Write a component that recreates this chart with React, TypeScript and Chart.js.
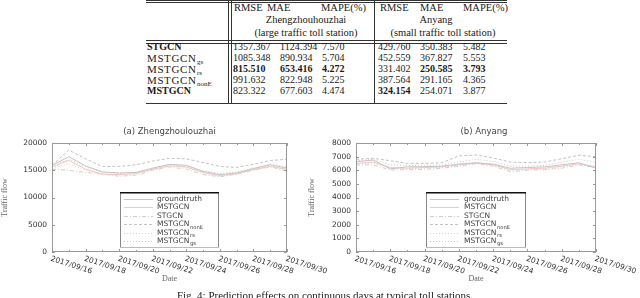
import React, { useEffect, useRef } from 'react';
import { Chart, registerables } from 'chart.js';
Chart.register(...registerables);

// ---------- data ----------
const dates = [
  '2017/09/16', '2017/09/17', '2017/09/18', '2017/09/19', '2017/09/20',
  '2017/09/21', '2017/09/22', '2017/09/23', '2017/09/24', '2017/09/25',
  '2017/09/26', '2017/09/27', '2017/09/28', '2017/09/29', '2017/09/30',
];
const seriesNames = ['groundtruth', 'MSTGCN', 'STGCN', 'MSTGCN_nonE', 'MSTGCN_rs', 'MSTGCN_gs'];

// (a) Zhengzhouhouzhai
const zzGroundtruth = [15900, 17500, 15800, 14700, 14500, 14600, 15400, 16100, 15900, 14800, 14200, 14500, 15300, 16000, 15400];
const zzMSTGCN = [15600, 16800, 15200, 14300, 14200, 14400, 15200, 15800, 15600, 14600, 14000, 14400, 15100, 15700, 15200];
const zzSTGCN = [15200, 15000, 14600, 14300, 13900, 14100, 15000, 15600, 15200, 14200, 13800, 14300, 15000, 15600, 14900];
const zzNonE = [15900, 18700, 17100, 15700, 15700, 16000, 16700, 17200, 17100, 16400, 15700, 15500, 16100, 16800, 17000];
const zzRs = [15400, 16200, 15000, 14200, 14100, 14300, 15100, 15900, 15500, 14500, 13900, 14300, 15200, 15800, 15000];
const zzGs = [15700, 17000, 15600, 14600, 14400, 14600, 15300, 16000, 15800, 14900, 14400, 14700, 15400, 16100, 15600];
const zzYMax = 20000;
const zzYStep = 5000;

// (b) Anyang
const ayGroundtruth = [6630, 6750, 6100, 6250, 6260, 6300, 6450, 6550, 6450, 6150, 6200, 6250, 6400, 6550, 6150];
const ayMSTGCN = [6500, 6600, 6200, 6150, 6200, 6250, 6400, 6520, 6400, 6050, 6100, 6150, 6300, 6480, 6250];
const aySTGCN = [6390, 6400, 6020, 6050, 6070, 6150, 6300, 6480, 6300, 5900, 6000, 6050, 6150, 6390, 6200];
const ayNonE = [6800, 6880, 6700, 6510, 6500, 6550, 7050, 7120, 6900, 6600, 6560, 6600, 6850, 7100, 7000];
const ayRs = [6450, 6550, 6150, 6100, 6150, 6200, 6350, 6600, 6350, 6000, 6050, 6100, 6250, 6450, 6300];
const ayGs = [6700, 6800, 6400, 6350, 6350, 6400, 6600, 6800, 6650, 6300, 6300, 6350, 6600, 6800, 6600];
const ayYMax = 8000;
const ayYStep = 1000;

// table
const tableModels = ['STGCN', 'MSTGCN_gs', 'MSTGCN_rs', 'MSTGCN_nonE', 'MSTGCN'];
const zzRMSE = ['1357.367', '1085.348', '815.510', '991.632', '823.322'];
const zzMAE = ['1124.394', '890.934', '653.416', '822.948', '677.603'];
const zzMAPE = ['7.570', '5.704', '4.272', '5.225', '4.474'];
const ayRMSE = ['429.760', '452.559', '331.402', '387.564', '324.154'];
const ayMAE = ['350.383', '367.827', '250.585', '291.165', '254.071'];
const ayMAPE = ['5.482', '5.553', '3.793', '4.365', '3.877'];
const zzRMSEBest = [false, false, true, false, false];
const zzMAEBest = [false, false, true, false, false];
const zzMAPEBest = [false, false, true, false, false];
const ayRMSEBest = [false, false, false, false, true];
const ayMAEBest = [false, false, true, false, false];
const ayMAPEBest = [false, false, true, false, false];
const boldModels = [true, false, false, false, true];

// ---------- styles ----------
const lineStyles = [
  { color: '#c4c4c4', dash: [] as number[] },
  { color: '#f3c6c6', dash: [] as number[] },
  { color: '#cfcfcf', dash: [4, 2, 1, 2] },
  { color: '#c2c2c2', dash: [3, 2] },
  { color: '#f2c8b8', dash: [1, 2] },
  { color: '#c8c8c8', dash: [1, 2] },
];

function drawName(ctx: CanvasRenderingContext2D, name: string, x: number, y: number, size: number) {
  const [base, sub] = name.split('_');
  ctx.font = `${size}px "DejaVu Sans"`;
  ctx.textAlign = 'left';
  ctx.textBaseline = 'middle';
  ctx.fillText(base, x, y);
  if (sub) {
    const w = ctx.measureText(base).width;
    ctx.font = `${size * 0.7}px "DejaVu Sans"`;
    ctx.fillText(sub, x + w + 0.5, y + size * 0.4);
  }
}

type ChartProps = {
  title: string;
  series: number[][];
  yMax: number;
  yStep: number;
  left: number;
  top: number;
  width: number;
  height: number;
  area: { left: number; top: number; right: number; bottom: number };
  titleDx: number;
  yTitlePad: number;
  legendBox: { left: number; top: number; width: number; height: number; textDx: number };
};

function LineChart(p: ChartProps) {
  const ref = useRef<HTMLCanvasElement>(null);
  useEffect(() => {
    const gp = {
      id: 'gp',
      afterDraw(chart: any) {
        const ctx: CanvasRenderingContext2D = chart.ctx;
        const a = chart.chartArea;
        const xs = chart.scales.x;
        const ys = chart.scales.y;
        ctx.save();
        // title
        ctx.fillStyle = '#444';
        ctx.font = '8.5px "DejaVu Sans"';
        ctx.textAlign = 'center';
        ctx.textBaseline = 'middle';
        ctx.fillText(p.title, (a.left + a.right) / 2 + p.titleDx, a.top - 11);
        // frame
        ctx.strokeStyle = '#999';
        ctx.lineWidth = 1;
        ctx.strokeRect(a.left + 0.5, a.top + 0.5, a.right - a.left - 1, a.bottom - a.top - 1);
        // x ticks inward
        ctx.beginPath();
        for (let i = 0; i < dates.length; i++) {
          const x = Math.round(xs.getPixelForTick(i)) + 0.5;
          const len = i % 2 === 0 ? 3 : 2;
          ctx.moveTo(x, a.top); ctx.lineTo(x, a.top + len);
          ctx.moveTo(x, a.bottom); ctx.lineTo(x, a.bottom - len);
        }
        ys.ticks.forEach((t: any) => {
          const y = Math.round(ys.getPixelForValue(t.value)) + 0.5;
          ctx.moveTo(a.left, y); ctx.lineTo(a.left + 3, y);
          ctx.moveTo(a.right, y); ctx.lineTo(a.right - 3, y);
        });
        ctx.stroke();
        // x labels rotated
        ctx.fillStyle = '#333';
        ctx.font = '7.5px "DejaVu Sans"';
        ctx.textAlign = 'left';
        ctx.textBaseline = 'top';
        for (let i = 0; i < dates.length; i += 2) {
          const x = xs.getPixelForTick(i);
          ctx.save();
          ctx.translate(x, a.bottom + 3);
          ctx.rotate((18 * Math.PI) / 180);
          ctx.fillText(dates[i], 0, 0);
          ctx.restore();
        }
        // legend
        const lb = p.legendBox;
        const L = a.left + lb.left;
        const T = a.top + lb.top;
        ctx.fillStyle = '#fff';
        ctx.fillRect(L, T, lb.width, lb.height);
        ctx.strokeStyle = '#888';
        ctx.lineWidth = 1;
        ctx.beginPath();
        ctx.moveTo(L + 0.5, T); ctx.lineTo(L + 0.5, T + lb.height);
        ctx.moveTo(L + lb.width - 0.5, T); ctx.lineTo(L + lb.width - 0.5, T + lb.height);
        ctx.stroke();
        ctx.strokeStyle = '#f0a898';
        ctx.beginPath();
        ctx.moveTo(L, T + lb.height - 0.5); ctx.lineTo(L + lb.width, T + lb.height - 0.5);
        ctx.stroke();
        ctx.strokeStyle = '#111';
        ctx.lineWidth = 1.5;
        ctx.beginPath();
        ctx.moveTo(L, T + 0.75); ctx.lineTo(L + lb.width, T + 0.75);
        ctx.stroke();
        chart.data.datasets.forEach((ds: any, k: number) => {
          const y = T + 7 + k * 8.4;
          ctx.strokeStyle = ds.borderColor;
          ctx.lineWidth = 1;
          ctx.setLineDash(ds.borderDash || []);
          ctx.beginPath();
          ctx.moveTo(L + 4, Math.round(y) + 0.5);
          ctx.lineTo(L + 33, Math.round(y) + 0.5);
          ctx.stroke();
          ctx.setLineDash([]);
          ctx.fillStyle = '#444';
          drawName(ctx, ds.label, L + lb.textDx, y, 7.5);
        });
        ctx.restore();
      },
    };
    const chart = new Chart(ref.current as HTMLCanvasElement, {
      type: 'line',
      data: {
        labels: dates,
        datasets: p.series.map((d, k) => ({
          label: seriesNames[k],
          data: d,
          borderColor: lineStyles[k].color,
          borderDash: lineStyles[k].dash,
          borderWidth: 1,
          pointRadius: 0,
          tension: 0,
          fill: false,
        })),
      },
      options: {
        animation: false,
        responsive: false,
        devicePixelRatio: 1,
        layout: { padding: { left: 0, top: p.area.top, right: p.width - p.area.right, bottom: 0 } },
        plugins: { legend: { display: false }, title: { display: false }, tooltip: { enabled: false } },
        scales: {
          x: {
            type: 'category',
            offset: false,
            grid: { display: false, drawTicks: false },
            border: { display: false },
            ticks: { display: false },
            title: {
              display: true,
              text: 'Date',
              color: '#666',
              font: { family: '"Liberation Serif"', size: 8 },
              padding: { top: 0, bottom: 8 },
            },
            afterFit: (s: any) => { s.height = p.height - p.area.bottom; },
          },
          y: {
            min: 0,
            max: p.yMax,
            grid: { display: false, drawTicks: false },
            border: { display: false },
            ticks: {
              stepSize: p.yStep,
              padding: 5,
              color: '#333',
              font: { family: '"DejaVu Sans"', size: 7.5 },
              callback: (v: any) => String(v),
            },
            title: {
              display: true,
              text: 'Traffic flow',
              color: '#666',
              font: { family: '"Liberation Serif"', size: 8 },
              padding: { top: p.yTitlePad, bottom: 0 },
            },
            afterFit: (s: any) => { s.width = p.area.left; },
          },
        },
      },
      plugins: [gp],
    } as any);
    return () => chart.destroy();
  }, []);
  return (
    <canvas
      ref={ref}
      width={p.width}
      height={p.height}
      style={{ position: 'absolute', left: p.left, top: p.top, width: p.width, height: p.height }}
    />
  );
}

function Sub({ name }: { name: string }) {
  const [base, sub] = name.split('_');
  return (
    <span style={{ position: 'relative', display: 'inline-block' }}>
      {base}
      {sub ? (
        <span
          style={{
            position: 'absolute',
            left: '100%',
            top: 7,
            fontSize: 7,
            lineHeight: '8px',
            letterSpacing: 0,
            marginLeft: 0.5,
          }}
        >
          {sub}
        </span>
      ) : null}
    </span>
  );
}

function T({ x, y, text, bold, size = 10, center, children, style }: any) {
  const lh = 14;
  const st: React.CSSProperties = {
    position: 'absolute',
    top: y - lh / 2,
    lineHeight: `${lh}px`,
    fontSize: size,
    fontWeight: bold ? 'bold' : 'normal',
    whiteSpace: 'nowrap',
    color: '#1a1a1a',
    fontFamily: '"Liberation Serif", serif',
    ...(center ? { left: x - 100, width: 200, textAlign: 'center' } : { left: x }),
    ...style,
  };
  return <div style={st}>{children ?? text}</div>;
}

function Line({ x, y, w, h, c = '#333' }: any) {
  return <div style={{ position: 'absolute', left: x, top: y, width: w, height: h, background: c }} />;
}

function Table() {
  const rowY = [47, 58, 69, 80, 91];
  const cols = [
    { x: 233, vals: zzRMSE, best: zzRMSEBest },
    { x: 280, vals: zzMAE, best: zzMAEBest },
    { x: 322, vals: zzMAPE, best: zzMAPEBest },
    { x: 378, vals: ayRMSE, best: ayRMSEBest },
    { x: 420, vals: ayMAE, best: ayMAEBest },
    { x: 463, vals: ayMAPE, best: ayMAPEBest },
  ];
  return (
    <>
      <Line x={146} y={0} w={361} h={1} />
      <Line x={146} y={2} w={361} h={1} />
      <Line x={146} y={40} w={361} h={1} />
      <Line x={146} y={43} w={361} h={1} />
      <Line x={146} y={103} w={361} h={1} />
      <Line x={228} y={0} w={1} h={104} />
      <Line x={231} y={0} w={1} h={104} />
      <Line x={374} y={0} w={1} h={104} />
      <T x={234} y={8} text="RMSE" size={10.5} />
      <T x={267} y={8} text="MAE" size={10.5} />
      <T x={321} y={8} text="MAPE(%)" size={10.5} />
      <T x={380} y={8} text="RMSE" size={10.5} />
      <T x={420} y={8} text="MAE" size={10.5} />
      <T x={463} y={8} text="MAPE(%)" size={10.5} />
      <T x={306} y={20} text="Zhengzhouhouzhai" center size={10.5} />
      <T x={306} y={33} text="(large traffic toll station)" center size={10.5} />
      <T x={436} y={20} text="Anyang" center size={10.5} />
      <T x={443} y={33} text="(small traffic toll station)" center size={10.5} />
      {tableModels.map((m, i) => (
        <T
          key={'m' + i}
          x={147}
          y={rowY[i]}
          bold={boldModels[i]}
          size={boldModels[i] ? 10 : 11}
          style={boldModels[i] ? {} : { letterSpacing: '0.6px' }}
        >
          <Sub name={m} />
        </T>
      ))}
      {cols.map((c, ci) =>
        c.vals.map((v, i) => (
          <T key={ci + '-' + i} x={c.x} y={rowY[i]} text={v} bold={c.best[i]} />
        ))
      )}
    </>
  );
}

export default function App() {
  useEffect(() => {
    document.body.style.margin = '0';
  }, []);
  return (
    <div style={{ position: 'relative', width: 640, height: 298, overflow: 'hidden', background: '#fff' }}>
      <Table />
      <LineChart
        title="(a) Zhengzhoulouzhai"
        series={[zzGroundtruth, zzMSTGCN, zzSTGCN, zzNonE, zzRs, zzGs]}
        yMax={zzYMax}
        yStep={zzYStep}
        left={0}
        top={122}
        width={345}
        height={170}
        area={{ left: 52, top: 21, right: 287, bottom: 130 }}
        titleDx={0}
        yTitlePad={0}
        legendBox={{ left: 68, top: 49, width: 99, height: 56, textDx: 37 }}
      />
      <LineChart
        title="(b) Anyang"
        series={[ayGroundtruth, ayMSTGCN, aySTGCN, ayNonE, ayRs, ayGs]}
        yMax={ayYMax}
        yStep={ayYStep}
        left={305}
        top={122}
        width={335}
        height={170}
        area={{ left: 51, top: 21, right: 291, bottom: 130 }}
        titleDx={8}
        yTitlePad={2}
        legendBox={{ left: 70, top: 49, width: 100, height: 56, textDx: 38 }}
      />
      <div
        style={{
          position: 'absolute',
          left: 0,
          width: 650,
          top: 289,
          textAlign: 'center',
          fontFamily: '"Liberation Serif", serif',
          fontSize: 11,
          lineHeight: '13px',
          color: '#1a1a1a',
          whiteSpace: 'nowrap',
        }}
      >
        Fig. 4: Prediction effects on continuous days at typical toll stations.
      </div>
    </div>
  );
}
